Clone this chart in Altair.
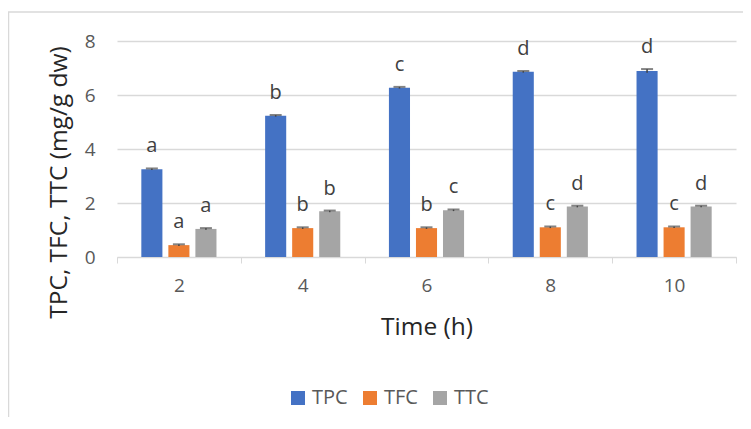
import altair as alt
import pandas as pd

times = ["2", "4", "6", "8", "10"]
series = ["TPC", "TFC", "TTC"]
colors = ["#4472C4", "#ED7D31", "#A5A5A5"]

tpc = [3.25, 5.23, 6.27, 6.86, 6.89]
tfc = [0.44, 1.07, 1.07, 1.10, 1.10]
ttc = [1.04, 1.69, 1.73, 1.87, 1.87]

tpc_err = [0.03, 0.03, 0.03, 0.03, 0.07]
tfc_err = [0.03, 0.03, 0.03, 0.03, 0.03]
ttc_err = [0.03, 0.03, 0.03, 0.03, 0.03]

tpc_letters = ["a", "b", "c", "d", "d"]
tfc_letters = ["a", "b", "b", "c", "c"]
ttc_letters = ["a", "b", "c", "d", "d"]

rows = []
for name, vals, errs, lets in [
    ("TPC", tpc, tpc_err, tpc_letters),
    ("TFC", tfc, tfc_err, tfc_letters),
    ("TTC", ttc, ttc_err, ttc_letters),
]:
    for t, v, e, l in zip(times, vals, errs, lets):
        rows.append({"time": t, "series": name, "value": v, "err": e,
                     "lo": v - e, "hi": v + e, "letter": l})
df = pd.DataFrame(rows)

FONT = "Open Sans"

x_enc = alt.X("time:N", sort=times, title="Time (h)",
              scale=alt.Scale(paddingInner=0, paddingOuter=0),
              axis=alt.Axis(labelAngle=0, labelFontSize=19, labelColor="#595959",
                            labelPadding=13, tickBand="extent", tickSize=6,
                            tickColor="#d9d9d9", domainColor="#d9d9d9",
                            titleFontSize=24.5, titleFontWeight="normal",
                            titleColor="#262626", titleY=70, titleBaseline="middle",
                            grid=False))
xo_enc = alt.XOffset("series:N", sort=series,
                     scale=alt.Scale(paddingInner=0.22, paddingOuter=0.9))
y_scale = alt.Scale(domain=[0, 8], nice=False)

base = alt.Chart(df)

bars = base.mark_bar().encode(
    x=x_enc,
    xOffset=xo_enc,
    y=alt.Y("value:Q", scale=y_scale, title="TPC, TFC, TTC (mg/g dw)",
            axis=alt.Axis(values=[0, 2, 4, 6, 8], ticks=False, domain=False,
                          gridColor="#d9d9d9", gridWidth=1.3,
                          labelFontSize=19, labelColor="#595959", labelPadding=22,
                          titleFontSize=24.5, titleFontWeight="normal",
                          titleColor="#262626", titleAngle=270, titleX=-58,
                          titleY=141, titleBaseline="middle", titleAlign="center")),
    color=alt.Color("series:N", sort=series,
                    scale=alt.Scale(domain=series, range=colors),
                    legend=alt.Legend(title=None, orient="none", direction="horizontal",
                                      legendX=171, legendY=347, symbolType="square",
                                      symbolSize=196, symbolStrokeWidth=0,
                                      labelFontSize=20, labelColor="#595959",
                                      labelOffset=4, columnPadding=12, padding=0)),
)

err_rule = base.mark_rule(color="#404040", strokeWidth=1.5).encode(
    x=alt.X("time:N", sort=times),
    xOffset=alt.XOffset("series:N", sort=series),
    y=alt.Y("lo:Q", scale=y_scale),
    y2="hi:Q",
)

caps = base.mark_tick(color="#505050", size=12, thickness=2).encode(
    x=alt.X("time:N", sort=times),
    xOffset=alt.XOffset("series:N", sort=series),
    y=alt.Y("hi:Q", scale=y_scale),
)

labels = base.mark_text(dy=-16, baseline="alphabetic", fontSize=20,
                        color="#404040", font=FONT).encode(
    x=alt.X("time:N", sort=times),
    xOffset=alt.XOffset("series:N", sort=series),
    y=alt.Y("hi:Q", scale=y_scale),
    text="letter:N",
)

frame_df = pd.DataFrame({"k": [0]})
frame_top = alt.Chart(frame_df).mark_rule(color="#d9d9d9", strokeWidth=1.5).encode(
    x=alt.value(-109), x2=alt.value(640), y=alt.value(-29))
frame_left = alt.Chart(frame_df).mark_rule(color="#d9d9d9", strokeWidth=1.5).encode(
    x=alt.value(-108.5), y=alt.value(-29), y2=alt.value(400))

chart = alt.layer(frame_top, frame_left, bars, err_rule, caps, labels).properties(
    width=619, height=216,
    autosize="none",
    padding={"left": 109, "top": 33, "right": 7, "bottom": 160},
).configure(font=FONT).configure_view(stroke=None)

chart.save("out.html", embed_options={"renderer": "svg", "actions": False})
